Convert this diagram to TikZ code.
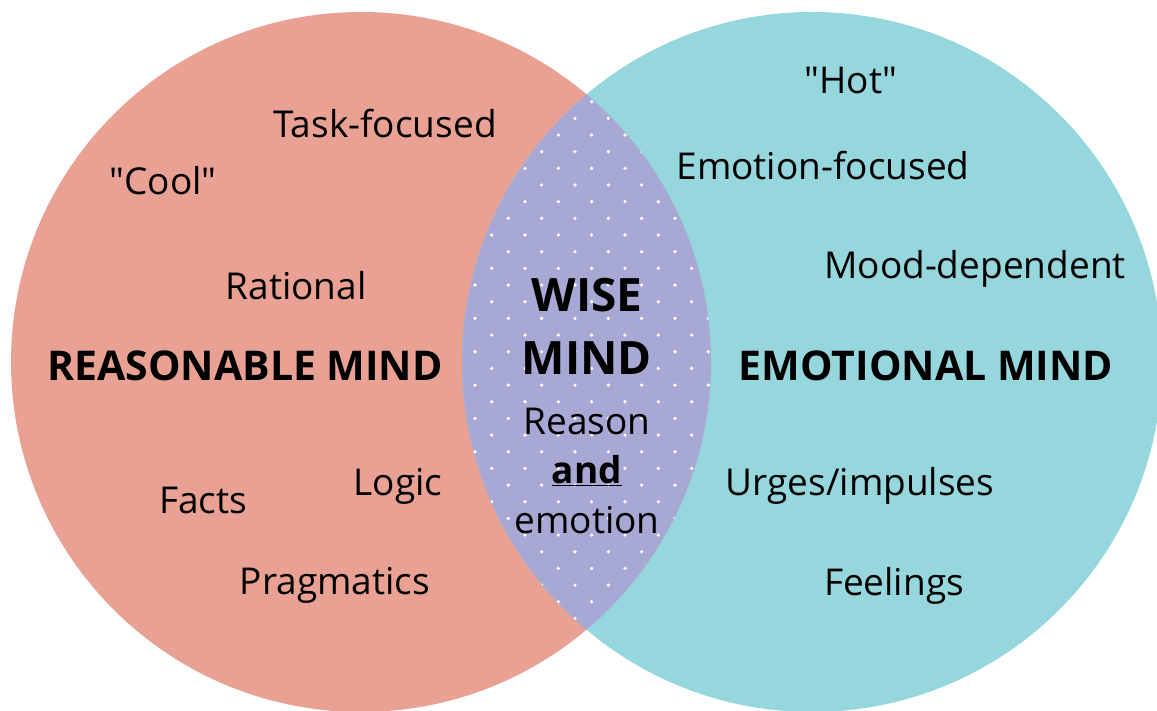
\documentclass[tikz,border=0pt]{standalone}
\usepackage{fontspec}
\setmainfont{Open Sans}
\definecolor{reasoncolor}{RGB}{232,161,147}
\definecolor{emotioncolor}{RGB}{149,215,221}
\definecolor{wisecolor}{RGB}{167,168,212}
\definecolor{labelcolor}{RGB}{0,0,0}
\tikzset{
itemlabel/.style={
  font=\fontsize{37}{40}\selectfont,
  text=labelcolor,
  anchor=base,
  inner sep=0pt
},
mindlabel/.style={
  font=\bfseries\fontsize{41}{44}\selectfont,
  text=labelcolor,
  anchor=base,
  inner sep=0pt
},
wiselabel/.style={
  font=\bfseries\fontsize{46}{50}\selectfont,
  text=labelcolor,
  anchor=base,
  inner sep=0pt
}
}

\begin{document}
\begin{tikzpicture}[x=1pt,y=-1pt]
  \useasboundingbox (0,0) rectangle (1157,711);

  % the two minds
  \fill[reasoncolor] (361,362) circle (350);
  \fill[emotioncolor] (812,362) circle (350);

  % overlap with dotted fill
  \begin{scope}
    \clip (361,362) circle (350);
    \fill[wisecolor] (812,362) circle (350);
    \clip (812,362) circle (350);
    \foreach \j in {0,...,34}{
      \foreach \i in {0,...,9}{
        \pgfmathsetmacro{\dx}{441.67+33.33*\i+16.67*mod(\j,2)}
        \pgfmathsetmacro{\dy}{85+16.67*\j}
        \fill[white] (\dx,\dy) circle (1.8);
      }
    }
  \end{scope}

  % reasonable mind
  \node[itemlabel] (task) at (385,138) {Task-focused};
  \node[itemlabel] (cool) at (163,195) {\textquotedbl Cool\textquotedbl};
  \node[itemlabel] (rational) at (296,300) {Rational};
  \node[mindlabel] (reasonable) at (245,381) {REASONABLE MIND};
  \node[itemlabel] (logic) at (398,495) {Logic};
  \node[itemlabel] (facts) at (203,513) {Facts};
  \node[itemlabel] (pragmatics) at (335,594) {Pragmatics};

  % emotional mind
  \node[itemlabel] (hot) at (851,94) {\textquotedbl Hot\textquotedbl};
  \node[itemlabel] (emofocus) at (823,180) {Emotion-focused};
  \node[itemlabel] (mood) at (975,279) {Mood-dependent};
  \node[mindlabel] (emotional) at (926,381) {EMOTIONAL MIND};
  \node[itemlabel] (urges) at (860,495) {Urges/impulses};
  \node[itemlabel] (feelings) at (894,595) {Feelings};

  % wise mind
  \node[wiselabel] (wise) at (587,312) {WISE};
  \node[wiselabel] (mind) at (587,374) {MIND};
  \node[itemlabel] (reason) at (587,434) {Reason};
  \node[itemlabel,font=\bfseries\fontsize{37}{40}\selectfont] (and) at (587,483) {\underline{and}};
  \node[itemlabel] (emotion) at (587,533) {emotion};
\end{tikzpicture}
\end{document}
